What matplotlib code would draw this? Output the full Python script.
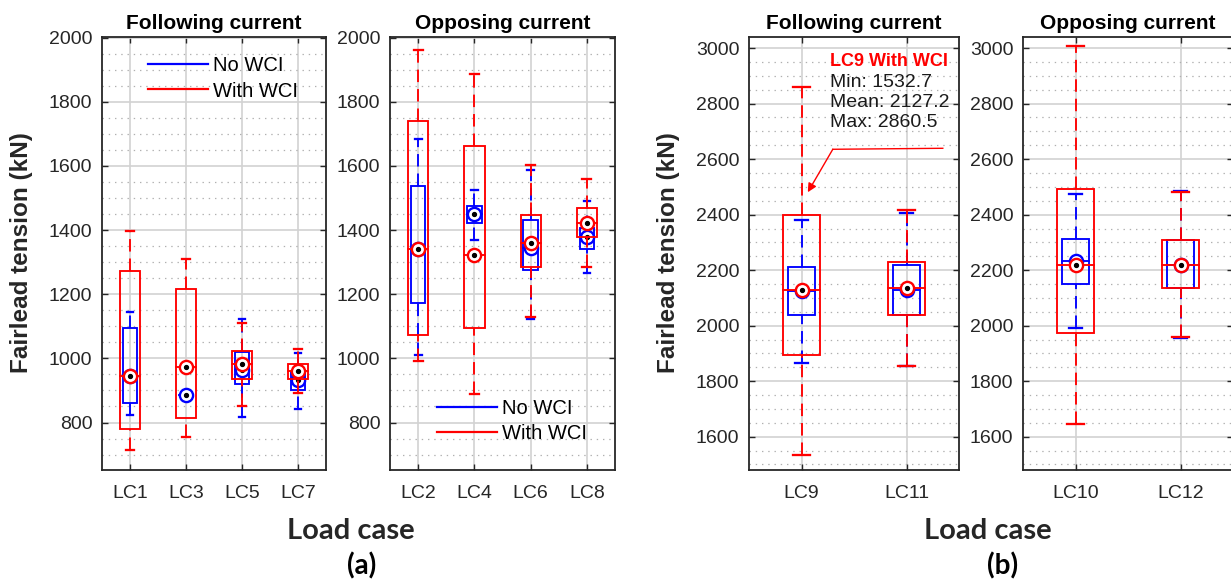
import matplotlib
matplotlib.use("Agg")
import matplotlib.pyplot as plt
from matplotlib.lines import Line2D
from matplotlib.patches import Rectangle
from matplotlib.ticker import MultipleLocator

plt.rcParams["font.family"] = ["Liberation Sans", "DejaVu Sans"]
plt.rcParams["lines.scale_dashes"] = False

# ---------------- data (kN) ----------------
# (a) following current: LC1, LC3, LC5, LC7
fol_a_labels = ["LC1", "LC3", "LC5", "LC7"]
fol_a_no_lo = [824, 886, 817, 842]
fol_a_no_q1 = [862, 886, 919, 900]
fol_a_no_med = [945, 886, 964, 933]
fol_a_no_q3 = [1094, 886, 1019, 956]
fol_a_no_hi = [1145, 886, 1124, 1018]
fol_a_wc_lo = [713, 755, 850, 891]
fol_a_wc_q1 = [779, 813, 936, 935]
fol_a_wc_med = [945, 974, 983, 961]
fol_a_wc_q3 = [1273, 1215, 1024, 983]
fol_a_wc_hi = [1398, 1309, 1111, 1028]

# (a) opposing current: LC2, LC4, LC6, LC8
opp_a_labels = ["LC2", "LC4", "LC6", "LC8"]
opp_a_no_lo = [1012, 1369, 1124, 1267]
opp_a_no_q1 = [1172, 1421, 1274, 1342]
opp_a_no_med = [1340, 1450, 1345, 1377]
opp_a_no_q3 = [1536, 1475, 1431, 1408]
opp_a_no_hi = [1684, 1524, 1588, 1490]
opp_a_wc_lo = [993, 890, 1128, 1285]
opp_a_wc_q1 = [1073, 1094, 1285, 1379]
opp_a_wc_med = [1340, 1322, 1360, 1423]
opp_a_wc_q3 = [1741, 1661, 1446, 1470]
opp_a_wc_hi = [1963, 1886, 1604, 1560]

# (b) following current: LC9, LC11
fol_b_labels = ["LC9", "LC11"]
fol_b_no_lo = [1864, 1856]
fol_b_no_q1 = [2037, 2037]
fol_b_no_med = [2125, 2130]
fol_b_no_q3 = [2210, 2220]
fol_b_no_hi = [2382, 2406]
fol_b_wc_lo = [1532.7, 1854]
fol_b_wc_q1 = [1896, 2040]
fol_b_wc_med = [2127.2, 2136]
fol_b_wc_q3 = [2398, 2230]
fol_b_wc_hi = [2860.5, 2416]

# (b) opposing current: LC10, LC12
opp_b_labels = ["LC10", "LC12"]
opp_b_no_lo = [1990, 1956]
opp_b_no_q1 = [2151, 2136]
opp_b_no_med = [2234, 2217]
opp_b_no_q3 = [2312, 2308]
opp_b_no_hi = [2475, 2486]
opp_b_wc_lo = [1647, 1959]
opp_b_wc_q1 = [1974, 2136]
opp_b_wc_med = [2217, 2217]
opp_b_wc_q3 = [2492, 2308]
opp_b_wc_hi = [3006, 2480]

series_names = ["No WCI", "With WCI"]

# ---------------- styling ----------------
BLUE = "#0000ff"
RED = "#ff0000"
LW = 1.35
DASH = (9.0, 5.0)
W, H = 1231, 581


def draw_boxes(ax, lo, q1, med, q3, hi, color, box_w, cap_w, z):
    for i, (a, b, m, c, d) in enumerate(zip(lo, q1, med, q3, hi)):
        x = i + 1
        ax.add_patch(Rectangle((x - box_w / 2, b), box_w, c - b, fill=False,
                               edgecolor=color, lw=LW, zorder=z))
        ax.plot([x - box_w / 2, x + box_w / 2], [m, m], color=color, lw=LW, zorder=z)
        ax.plot([x, x], [c, d], color=color, lw=LW, dashes=DASH, zorder=z)
        ax.plot([x, x], [a, b], color=color, lw=LW, dashes=DASH, zorder=z)
        ax.plot([x - cap_w / 2, x + cap_w / 2], [d, d], color=color, lw=LW + 0.3, zorder=z)
        ax.plot([x - cap_w / 2, x + cap_w / 2], [a, a], color=color, lw=LW + 0.3, zorder=z)
        ax.plot([x], [m], marker="o", ms=9.5, mfc="white", mec=color, mew=1.7, zorder=z + 0.2)
        ax.plot([x], [m], marker="o", ms=2.8, color="black", zorder=z + 0.3)


def setup(ax, labels, ylim, yticks, title):
    n = len(labels)
    ax.set_xlim(0.5, n + 0.5)
    ax.set_xticks(range(1, n + 1))
    ax.set_xticklabels(labels)
    ax.set_ylim(*ylim)
    ax.set_yticks(yticks)
    ax.yaxis.set_minor_locator(MultipleLocator(50))
    ax.set_axisbelow(True)
    ax.grid(True, which="major", color="#d2d2d2", lw=1.2)
    ax.grid(True, which="minor", axis="y", color="#b0b0b0", lw=0.9, linestyle=(0, (1, 3.5)))
    ax.tick_params(which="major", direction="in", length=4, width=1.0, top=True, right=True,
                   labelsize=14, colors="#262626", pad=7)
    ax.tick_params(axis="x", pad=11)
    ax.tick_params(which="minor", length=0)
    for s in ax.spines.values():
        s.set_color("#262626")
        s.set_linewidth(1.3)
    ax.set_title(title, fontsize=15, fontweight="bold", pad=6)


def axes_at(fig, x0, x1, y0=37, y1=470):
    return fig.add_axes([x0 / W, (H - y1) / H, (x1 - x0) / W, (y1 - y0) / H])


fig = plt.figure(figsize=(W / 100, H / 100), dpi=100)

ax_a1 = axes_at(fig, 102, 326)
ax_a2 = axes_at(fig, 390, 615)
ax_b1 = axes_at(fig, 749, 959)
ax_b2 = axes_at(fig, 1023, 1233)

ticks_a = list(range(800, 2001, 200))
ticks_b = list(range(1600, 3001, 200))

panels = [
    (ax_a1, fol_a_labels, (652, 2002), ticks_a, "Following current",
     (fol_a_no_lo, fol_a_no_q1, fol_a_no_med, fol_a_no_q3, fol_a_no_hi),
     (fol_a_wc_lo, fol_a_wc_q1, fol_a_wc_med, fol_a_wc_q3, fol_a_wc_hi)),
    (ax_a2, opp_a_labels, (652, 2002), ticks_a, "Opposing current",
     (opp_a_no_lo, opp_a_no_q1, opp_a_no_med, opp_a_no_q3, opp_a_no_hi),
     (opp_a_wc_lo, opp_a_wc_q1, opp_a_wc_med, opp_a_wc_q3, opp_a_wc_hi)),
    (ax_b1, fol_b_labels, (1480, 3040), ticks_b, "Following current",
     (fol_b_no_lo, fol_b_no_q1, fol_b_no_med, fol_b_no_q3, fol_b_no_hi),
     (fol_b_wc_lo, fol_b_wc_q1, fol_b_wc_med, fol_b_wc_q3, fol_b_wc_hi)),
    (ax_b2, opp_b_labels, (1480, 3040), ticks_b, "Opposing current",
     (opp_b_no_lo, opp_b_no_q1, opp_b_no_med, opp_b_no_q3, opp_b_no_hi),
     (opp_b_wc_lo, opp_b_wc_q1, opp_b_wc_med, opp_b_wc_q3, opp_b_wc_hi)),
]

for ax, labels, ylim, yticks, title, no_wci, with_wci in panels:
    setup(ax, labels, ylim, yticks, title)
    draw_boxes(ax, *no_wci, BLUE, 0.26, 0.12, 3)
    draw_boxes(ax, *with_wci, RED, 0.36, 0.16, 4)

# legends
handles = [Line2D([], [], color=BLUE, lw=1.6), Line2D([], [], color=RED, lw=1.6)]
for ax, anchor in [(ax_a1, (0.205, 0.955)), (ax_a2, (0.209, 0.165))]:
    ax.legend(handles, series_names, loc="upper left", bbox_to_anchor=anchor,
              frameon=False, fontsize=14.5, handlelength=3.0, handletextpad=0.25,
              labelspacing=0.3, borderpad=0, borderaxespad=0)

# callout on LC9 With WCI
def by(py):
    return 3000 - (py - 47.7) / 0.2779

def bx(px):
    return 1 + (px - 801.7) / 105

i9 = 0
ax_b1.text(bx(830), by(61), f"{fol_b_labels[i9]} With WCI", color=RED, fontsize=13,
           fontweight="bold", va="center", ha="left", zorder=6)
ax_b1.text(bx(830), by(82), f"Min: {fol_b_wc_lo[i9]:.1f}", fontsize=14,
           va="center", ha="left", color="#1a1a1a", zorder=6)
ax_b1.text(bx(830), by(102), f"Mean: {fol_b_wc_med[i9]:.1f}", fontsize=14,
           va="center", ha="left", color="#1a1a1a", zorder=6)
ax_b1.text(bx(830), by(122), f"Max: {fol_b_wc_hi[i9]:.1f}", fontsize=14,
           va="center", ha="left", color="#1a1a1a", zorder=6)
ax_b1.plot([bx(943), bx(833)], [by(148), by(149)], color=RED, lw=1.0, zorder=6)
ax_b1.annotate("", xy=(bx(808), by(192)), xytext=(bx(833), by(149)),
               arrowprops=dict(arrowstyle="-|>", color=RED, lw=1.0, mutation_scale=13,
                               shrinkA=0, shrinkB=0), zorder=6)

# axis labels and panel tags
for xc in (22, 668):
    fig.text(xc / W, 1 - 253 / H, "Fairlead tension (kN)", rotation=90, ha="center",
             va="center", fontsize=17.5, fontweight="bold", color="#262626")
for xc in (351, 988):
    fig.text(xc / W, 1 - 531 / H, "Load case", ha="center", va="center",
             fontsize=21, fontweight="bold", family=["Lato", "DejaVu Sans"], color="#262626")
for xc, tag in ((362, "(a)"), (1003, "(b)")):
    fig.text(xc / W, 1 - 566 / H, tag, ha="center", va="center",
             fontsize=20, fontweight="bold", family=["Lato", "DejaVu Sans"], color="black")

fig.savefig("out.png", dpi=100)
